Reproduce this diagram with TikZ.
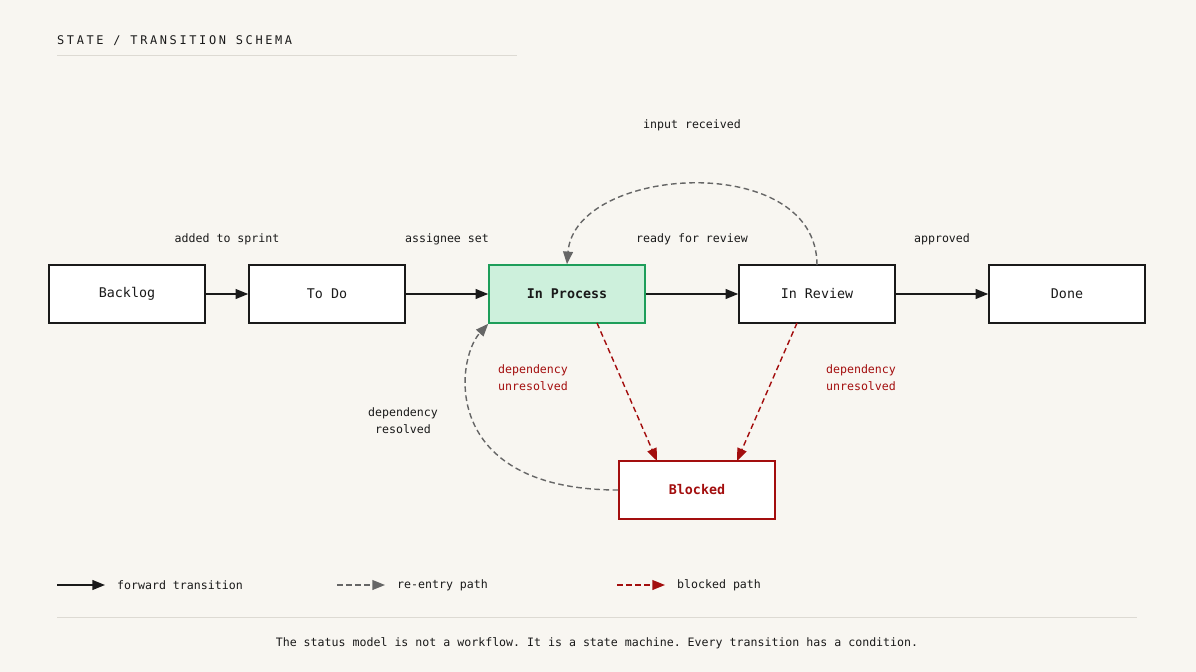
\documentclass[tikz,border=0pt]{standalone}
\usepackage{fontspec}
\setmonofont{DejaVu Sans Mono}
\usetikzlibrary{arrows.meta,positioning}
\definecolor{paper}{HTML}{F8F6F1}
\definecolor{ink}{HTML}{1A1A1A}
\definecolor{okgreen}{HTML}{1E9E5A}
\definecolor{okfill}{HTML}{CDF0DC}
\definecolor{blockred}{HTML}{A30E0E}
\definecolor{reentry}{HTML}{666666}
\definecolor{rule}{HTML}{DDDAD3}
\tikzset{
  state/.style={draw=ink,line width=2.2pt,fill=white,minimum width=7.8cm,minimum height=2.9cm,font=\ttfamily\fontsize{19}{22}\selectfont,text=ink},
  edge/.style={draw=ink,line width=2.2pt,-{Triangle[length=18pt,width=14pt]}},
  reedge/.style={draw=reentry,line width=2pt,dash pattern=on 8pt off 5pt,-{Triangle[length=18pt,width=14pt]}},
  blkedge/.style={draw=blockred,line width=2pt,dash pattern=on 8pt off 5pt,-{Triangle[length=18pt,width=14pt]}},
  weight/.style={font=\ttfamily\fontsize{16.5}{24.5}\selectfont,text=ink,align=center},
  redweight/.style={weight,text=blockred}
}
\begin{document}
\begin{tikzpicture}[x=0.05cm,y=-0.05cm]
\fill[paper] (0,0) rectangle (1196,672);
\useasboundingbox (0,0) rectangle (1196,672);

% title
\node[anchor=west,inner sep=0pt,font=\ttfamily\fontsize{17}{20}\selectfont\addfontfeature{LetterSpace=22},text=ink] (title) at (57,41) {STATE / TRANSITION SCHEMA};
\draw[rule,line width=1.2pt] (57,55) -- (517,55);

% states
\foreach \pos/\name/\txt in {{(127,294)/backlog/Backlog},{(327,294)/todo/To Do},{(817,294)/review/In Review},{(1067,294)/done/Done}}
    \node[state] (\name) at \pos {\txt};
\node[state,draw=okgreen,fill=okfill,font=\ttfamily\bfseries\fontsize{19}{22}\selectfont] (process) at (567,294) {In Process};
\node[state,draw=blockred,text=blockred,font=\ttfamily\bfseries\fontsize{19}{22}\selectfont] (blocked) at (697,490) {Blocked};

% forward transitions
\foreach \source/\dest/\xl/\weight in {backlog/todo/227/added to sprint, todo/process/447/assignee set, process/review/692/ready for review, review/done/942/approved}{
    \path[edge] (\source) -- (\dest);
    \node[weight] at (\xl,239) {\weight};
}

% re-entry paths
\coordinate (rtop) at (817,265);
\path[reedge] (rtop) .. controls (817,150) and (575,165) .. (process.north);
\node[weight] (inlbl) at (692,125) {input received};
\path[reedge] (blocked.west) .. controls (440,490) and (455,360) .. (process.south west);
\node[weight] (reslbl) at (403,421) {dependency\\resolved};

% blocked paths
\coordinate (pout) at (597,323);
\coordinate (rout) at (797,323);
\coordinate (bin1) at (657,461);
\coordinate (bin2) at (737,461);
\path[blkedge] (pout) -- (bin1);
\path[blkedge] (rout) -- (bin2);
\node[redweight] (unl1) at (533,378) {dependency\\unresolved};
\node[redweight] (unl2) at (861,378) {dependency\\unresolved};

% legend
\coordinate (l1a) at (57,585); \coordinate (l1b) at (105,585);
\coordinate (l2a) at (337,585); \coordinate (l2b) at (385,585);
\coordinate (l3a) at (617,585); \coordinate (l3b) at (665,585);
\path[edge] (l1a) -- (l1b);
\path[reedge] (l2a) -- (l2b);
\path[blkedge] (l3a) -- (l3b);
\node[weight,anchor=west,inner sep=0pt] (leg1) at (117,585) {forward transition};
\node[weight,anchor=west,inner sep=0pt] (leg2) at (397,585) {re-entry path};
\node[weight,anchor=west,inner sep=0pt] (leg3) at (677,585) {blocked path};

% footer
\draw[rule,line width=1.2pt] (57,617) -- (1137,617);
\node[weight] (foot) at (597,643) {The status model is not a workflow. It is a state machine. Every transition has a condition.};
\end{tikzpicture}
\end{document}
